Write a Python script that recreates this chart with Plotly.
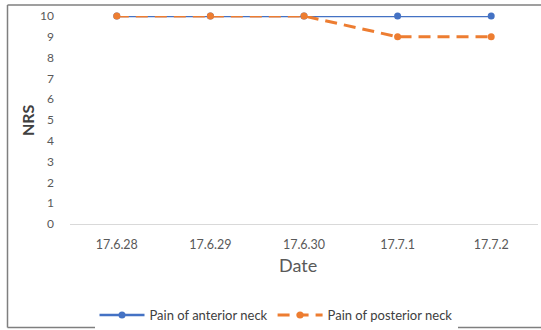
import plotly.graph_objects as go

dates = ["17.6.28", "17.6.29", "17.6.30", "17.7.1", "17.7.2"]
anterior = [10, 10, 10, 10, 10]
posterior = [10, 10, 10, 9, 9]
y_ticks = list(range(0, 11))

W, H = 541, 330
L, R, T, B = 70, 3, 16, 106
pw, ph = W - L - R, H - T - B

def px2paper_x(px):
    return (px - L) / pw

def px2paper_y(py):
    return (H - B - py) / ph

FONT = "Lato, 'Open Sans', sans-serif"

fig = go.Figure()
fig.add_trace(go.Scatter(
    x=dates, y=anterior, name="Pain of anterior neck", mode="lines+markers",
    line=dict(color="#4472C4", width=2.5), marker=dict(size=7, color="#4472C4"),
    cliponaxis=False))
fig.add_trace(go.Scatter(
    x=dates, y=posterior, name="Pain of posterior neck", mode="lines+markers",
    line=dict(color="#ED7D31", width=3, dash="12px,7px"), marker=dict(size=7, color="#ED7D31"),
    cliponaxis=False))

border = dict(color="#7F7F7F", width=1.5)
xl, xr = px2paper_x(7.5), px2paper_x(541)
yt, yb = px2paper_y(5), px2paper_y(327.5)

fig.update_layout(
    width=W, height=H,
    margin=dict(l=L, r=R, t=T, b=B, pad=0, autoexpand=False),
    paper_bgcolor="white", plot_bgcolor="white",
    font=dict(family=FONT, color="#595959", size=12),
    showlegend=True,
    legend=dict(orientation="h", x=px2paper_x(276), y=px2paper_y(315),
                xanchor="center", yanchor="middle", font=dict(size=13, color="#404040"),
                itemwidth=45, tracegroupgap=0),
    xaxis=dict(type="category", range=[-0.5, 4.5], showgrid=False, automargin=False,
               showline=True, linecolor="#D9D9D9", linewidth=1,
               ticks="", ticklabelstandoff=9, tickfont=dict(size=12.5, color="#595959"),
               zeroline=False),
    yaxis=dict(range=[0, 10], tickvals=y_ticks, showgrid=False, showline=False,
               automargin=False,
               zeroline=False, ticks="", ticklabelstandoff=15,
               tickfont=dict(size=12, color="#595959")),
    annotations=[
        dict(text="Date", xref="paper", yref="paper", x=px2paper_x(298), y=px2paper_y(265),
             xanchor="center", yanchor="middle", showarrow=False,
             font=dict(size=18, color="#595959")),
        dict(text="<b>NRS</b>", xref="paper", yref="paper", x=px2paper_x(27), y=px2paper_y(120),
             xanchor="center", yanchor="middle", showarrow=False, textangle=-90,
             font=dict(size=16, color="#404040")),
    ],
    shapes=[
        dict(type="line", xref="paper", yref="paper", x0=xl, x1=xl, y0=yb, y1=yt, line=border, layer="below"),
        dict(type="line", xref="paper", yref="paper", x0=xl, x1=xr, y0=yt, y1=yt, line=border, layer="below"),
        dict(type="line", xref="paper", yref="paper", x0=xl, x1=xr, y0=yb, y1=yb, line=border, layer="below"),
    ],
)

fig.write_html("out.html", config={"displayModeBar": False},
               post_script="document.body.style.margin='0';document.body.style.overflow='hidden';")
